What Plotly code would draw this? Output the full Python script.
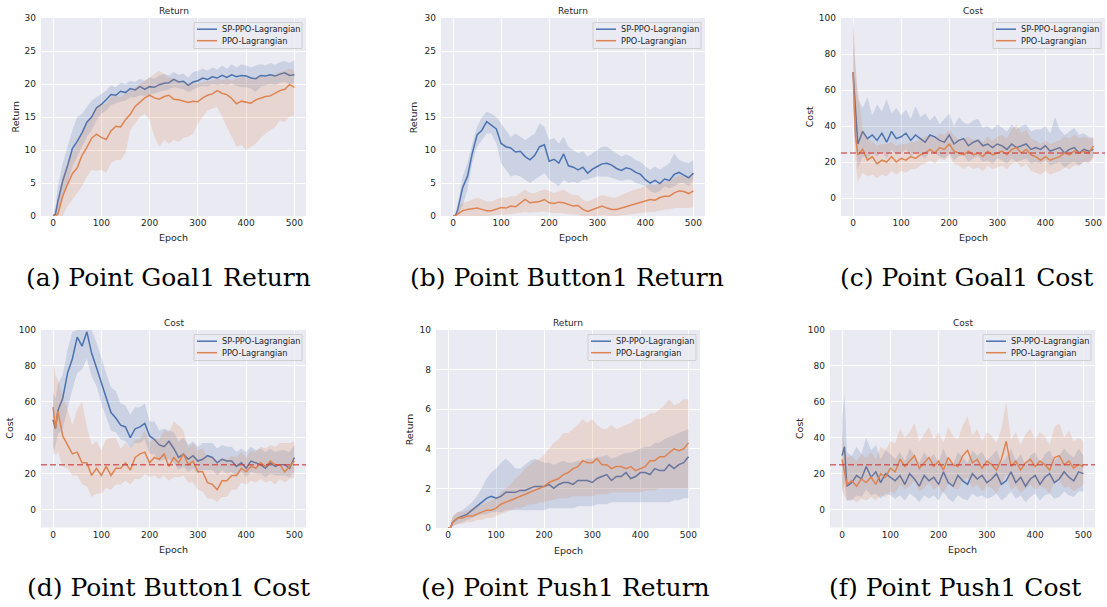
import plotly.graph_objects as go

# ---------------- data ----------------
EPOCHS = [0, 5] + list(range(10, 501, 10))
X_TICKS = [0, 100, 200, 300, 400, 500]
SERIES_NAMES = ["SP-PPO-Lagrangian", "PPO-Lagrangian"]
COST_LIMIT = 25

# (a) Point Goal1 Return
a_sp_mean = [0, 0.3, 2.2, 5.3, 7.6, 10.2, 11.3, 12.6, 14.2, 15.0,
             16.4, 16.9, 17.6, 18.4, 18.3, 18.9, 18.7, 19.3, 19.1, 19.6,
             19.2, 19.6, 19.5, 19.9, 20.1, 20.2, 20.7, 20.3, 20.4, 19.8,
             20.3, 20.5, 20.9, 20.7, 21.1, 20.9, 21.3, 21.0, 21.4, 21.1,
             21.3, 21.2, 20.9, 20.8, 21.3, 21.2, 21.4, 21.2, 21.5, 21.7,
             21.3, 21.4]
a_sp_lo = [0, 0, 0.5, 3, 5, 7.5, 9, 10.5, 12, 13,
           14.5, 15.5, 16, 16.8, 17, 17.3, 17.5, 18, 18, 18.3,
           18.2, 18.5, 18.6, 18.8, 19, 19.2, 19.5, 19.3, 19.2, 18.8,
           19.2, 19.5, 19.7, 19.6, 20, 19.8, 20, 19.8, 20.1, 19.7,
           19.5, 19.5, 19.3, 18.8, 19.6, 19.8, 20, 19.8, 20.2, 20.3,
           20, 20.2]
a_sp_hi = [0.2, 1.5, 4.5, 8, 10.5, 13, 15, 15.5, 16.5, 17.5,
           18, 18.5, 19, 19.8, 19.5, 20.2, 20, 20.5, 20.3, 20.8,
           20.5, 21, 20.8, 21.3, 21.5, 21.3, 21.8, 21.4, 21.6, 21,
           21.8, 22, 22.3, 22, 22.5, 22.2, 22.8, 22.3, 23, 22.5,
           23, 22.8, 22.5, 22.8, 23, 22.8, 23.2, 22.9, 23.3, 23.5,
           23.2, 23.6]
a_ppo_mean = [0, 0, 0.3, 3.0, 4.8, 6.4, 7.3, 9.2, 10.4, 11.8,
              12.4, 11.9, 11.6, 12.9, 13.6, 13.5, 14.6, 15.4, 16.6, 17.2,
              17.9, 18.3, 17.9, 17.7, 18.1, 18.3, 17.7, 17.6, 17.4, 17.2,
              17.4, 17.3, 17.9, 18.3, 18.5, 19.0, 18.6, 18.4, 17.8, 17.0,
              17.4, 17.2, 17.1, 17.6, 17.9, 18.1, 18.2, 18.6, 19.0, 19.2,
              19.9, 19.5]
a_ppo_lo = [0, 0, 0, 0, 1.5, 2.5, 3.5, 4.5, 6, 7,
            6.8, 7, 6.5, 8, 8.5, 8.5, 9.5, 13, 14, 15,
            15.5, 14.5, 12, 10.5, 11.5, 11, 11.5, 11.2, 11.8, 12,
            12.5, 14, 15, 16, 16.3, 16.5, 15, 13.5, 12, 10.5,
            10.8, 10, 10.5, 11, 11.8, 12.5, 13, 13.5, 14.5, 14.2,
            15, 15.2]
a_ppo_hi = [0.2, 0.5, 2.5, 6, 8, 9.5, 11, 12.5, 14, 15,
            16.5, 17, 17, 18, 18.3, 18, 18.5, 19, 19.5, 20,
            20.5, 21, 21.5, 22, 21.5, 21, 20.8, 20.5, 20.3, 20,
            20.2, 20, 20.3, 20.5, 20.5, 20.8, 20.6, 20.8, 20.5, 20.8,
            21, 21, 20.7, 21, 21.2, 21, 21.2, 21.5, 21.8, 22,
            22.3, 22]

# (b) Point Button1 Return
b_sp_mean = [0, 0, 1.0, 4.3, 6.0, 9.5, 12.3, 13.0, 14.3, 13.8,
             13.2, 11.0, 10.5, 10.3, 9.7, 9.8, 9.0, 8.5, 9.2, 10.5,
             10.8, 8.3, 8.6, 8.0, 9.4, 7.6, 7.4, 7.0, 7.4, 6.5,
             7.1, 7.5, 7.9, 8.0, 7.7, 7.2, 6.9, 7.3, 7.1, 6.6,
             6.3, 5.5, 5.0, 5.4, 4.9, 5.6, 5.4, 6.3, 6.6, 6.2,
             5.8, 6.5]
b_sp_lo = [0, 0, 0.2, 1.5, 4, 8, 10.5, 11.5, 12.5, 12.5,
           11, 8, 7, 6, 6.2, 6, 5.5, 5, 5.5, 6,
           6.5, 5.5, 5, 4.5, 5.5, 5, 5.2, 5, 5.5, 5.5,
           5.8, 6, 6, 6, 5.8, 5.5, 5.3, 5.5, 5.5, 5,
           4.8, 4.5, 3.8, 3.5, 3.8, 4.5, 4.2, 4.5, 5, 5,
           4.5, 5.5]
b_sp_hi = [0.2, 0.5, 2, 6, 8, 11, 13.5, 15, 15.8, 15.5,
           15, 14, 13, 12, 12.5, 12, 11.5, 12, 12.5, 14,
           13.5, 11.5, 11.8, 11, 12, 10.5, 10, 9.5, 9.8, 9,
           9.5, 10, 10.5, 10.5, 10, 9.5, 9, 9.3, 9, 8.5,
           8.2, 7.5, 7, 7.5, 7, 7.5, 8, 9.5, 8.5, 8.2,
           8, 8.5]
b_ppo_mean = [0, 0, 0.3, 0.8, 1.0, 1.1, 1.2, 1.0, 0.8, 0.8,
              1.0, 1.3, 1.2, 1.5, 1.4, 2.0, 2.5, 2.0, 2.1, 2.2,
              2.5, 2.0, 1.9, 2.1, 2.0, 1.8, 1.5, 1.6, 1.0, 0.7,
              1.0, 1.2, 1.5, 1.2, 1.0, 1.0, 1.2, 1.5, 1.7, 1.8,
              2.0, 2.2, 2.5, 2.4, 2.8, 3.0, 3.0, 3.5, 3.8, 3.7,
              3.4, 3.8]
b_ppo_lo = [0, 0, 0, 0, 0, 0, 0, 0, 0, 0,
            0.1, 0.2, 0.2, 0.3, 0.3, 0.5, 0.6, 0.5, 0.5, 0.6,
            0.7, 0.5, 0.5, 0.4, 0.4, 0.3, 0.2, 0.2, 0, 0,
            0, 0, 0.1, 0.1, 0, 0, 0.1, 0.2, 0.3, 0.4,
            0.5, 0.5, 0.6, 0.6, 0.8, 1.0, 1.0, 1.2, 1.3, 1.2,
            1.2, 1.3]
b_ppo_hi = [0.1, 0.2, 1.2, 2, 2.2, 2.5, 2.8, 2.5, 2.2, 2.2,
            2.5, 2.8, 2.7, 3, 3, 3.5, 4, 3.5, 3.5, 3.8,
            4, 3.8, 3.5, 3.8, 4, 3.5, 3.2, 3.2, 2.5, 2.2,
            2.5, 2.8, 3.2, 3, 2.8, 2.8, 3.2, 3.5, 3.8, 4,
            4.2, 4.5, 4.8, 4.6, 5, 5.2, 5.3, 5.8, 6.2, 6,
            5.8, 6.5]

# (c) Point Goal1 Cost
c_sp_mean = [70, 48, 30, 37, 33, 35, 32, 36, 31, 37,
             33, 34, 36, 32, 35, 33, 31, 35, 34, 32,
             31, 35, 30, 32, 33, 29, 31, 32, 29, 30,
             28, 30, 29, 27, 30, 28, 29, 30, 27, 28,
             27, 29, 26, 27, 28, 25, 27, 28, 25, 27,
             26, 27]
c_sp_lo = [50, 30, 16, 23, 22, 25, 23, 26, 22, 27,
           24, 25, 27, 23, 26, 24, 22, 26, 25, 23,
           22, 25, 21, 23, 24, 20, 22, 23, 20, 21,
           19, 22, 21, 19, 22, 20, 21, 22, 19, 20,
           19, 21, 18, 19, 20, 17, 19, 20, 18, 20,
           20, 23]
c_sp_hi = [100, 70, 55, 50, 56, 46, 52, 48, 55, 47,
           50, 46, 49, 44, 51, 45, 47, 43, 46, 41,
           44, 47, 40, 45, 42, 41, 43, 44, 39, 40,
           38, 41, 39, 37, 41, 38, 40, 41, 37, 38,
           38, 40, 36, 45, 38, 35, 37, 39, 35, 36,
           34, 33]
c_ppo_mean = [70, 35, 24, 27, 21, 23, 19, 21, 20, 23,
              20, 22, 21, 23, 22, 24, 25, 27, 25, 28,
              27, 30, 26, 25, 24, 26, 24, 25, 23, 26,
              24, 25, 26, 24, 27, 28, 25, 27, 24, 23,
              21, 23, 21, 22, 23, 25, 24, 26, 25, 26,
              25, 29]
c_ppo_lo = [50, 20, 9, 14, 12, 13, 11, 13, 12, 15,
            13, 15, 14, 16, 16, 18, 19, 21, 19, 22,
            21, 23, 19, 18, 16, 18, 16, 17, 15, 18,
            16, 17, 18, 16, 19, 20, 17, 19, 15, 14,
            13, 15, 13, 14, 15, 17, 16, 18, 18, 20,
            19, 22]
c_ppo_hi = [100, 75, 60, 38, 33, 31, 29, 30, 30, 31,
            29, 30, 30, 31, 31, 33, 34, 35, 33, 36,
            35, 38, 35, 32, 33, 34, 32, 33, 31, 34,
            32, 34, 35, 33, 38, 41, 36, 38, 33, 32,
            30, 32, 30, 31, 32, 34, 33, 35, 33, 34,
            33, 34]

# (d) Point Button1 Cost
d_sp_mean = [50, 45, 55, 62, 76, 84, 96, 91, 99, 87,
             79, 71, 63, 54, 51, 47, 46, 40, 45, 46,
             48, 41, 39, 36, 35, 38, 34, 29, 31, 28,
             30, 27, 28, 30, 29, 26, 28, 27, 27, 24,
             26, 23, 27, 26, 25, 23, 26, 24, 25, 25,
             23, 29]
d_sp_lo = [30, 35, 42, 45, 56, 67, 76, 78, 84, 74,
           69, 59, 51, 44, 43, 39, 38, 34, 37, 37,
           39, 31, 31, 27, 28, 28, 26, 22, 24, 21,
           23, 20, 22, 22, 22, 19, 22, 20, 21, 18,
           21, 18, 21, 20, 20, 18, 20, 19, 19, 19,
           18, 21]
d_sp_hi = [65, 62, 70, 75, 89, 99, 100, 100, 100, 100,
           93, 84, 76, 68, 66, 59, 58, 53, 57, 57,
           59, 49, 49, 44, 45, 44, 43, 38, 40, 36,
           38, 35, 37, 37, 37, 34, 36, 35, 35, 32,
           34, 32, 35, 33, 34, 32, 34, 32, 33, 33,
           32, 36]
d_ppo_mean = [57, 45, 55, 41, 36, 31, 32, 26, 26, 19,
              23, 19, 24, 19, 23, 23, 26, 22, 29, 31,
              32, 26, 29, 28, 31, 24, 29, 26, 31, 25,
              27, 21, 21, 15, 14, 11, 16, 16, 19, 19,
              23, 21, 24, 23, 26, 24, 27, 25, 25, 21,
              24, 27]
d_ppo_lo = [35, 30, 32, 24, 23, 19, 19, 14, 13, 7,
            9, 9, 12, 11, 14, 14, 16, 14, 17, 17,
            20, 18, 19, 17, 19, 16, 18, 18, 19, 15,
            15, 11, 10, 6, 6, 4, 7, 7, 11, 11,
            15, 14, 16, 15, 17, 15, 16, 14, 17, 15,
            17, 18]
d_ppo_hi = [83, 75, 72, 63, 56, 47, 56, 60, 46, 36,
            38, 33, 39, 40, 40, 34, 37, 34, 39, 39,
            44, 37, 40, 39, 44, 43, 49, 47, 44, 34,
            37, 33, 34, 29, 30, 27, 29, 28, 30, 29,
            32, 29, 33, 32, 35, 34, 36, 35, 37, 37,
            37, 38]

# (e) Point Push1 Return
e_sp_mean = [0, 0, 0.3, 0.5, 0.6, 0.7, 0.9, 1.1, 1.3, 1.5,
             1.6, 1.5, 1.6, 1.8, 1.8, 1.8, 1.9, 1.9, 2.0, 2.1,
             2.1, 2.1, 2.2, 2.0, 2.2, 2.3, 2.3, 2.2, 2.4, 2.4,
             2.4, 2.3, 2.5, 2.6, 2.7, 2.4, 2.6, 2.6, 2.8, 2.5,
             2.6, 2.8, 2.8, 2.7, 3.0, 2.9, 2.9, 3.2, 3.0, 3.2,
             3.3, 3.6]
e_sp_lo = [0, 0, 0.1, 0.2, 0.3, 0.4, 0.5, 0.6, 0.7, 0.7,
           0.8, 0.8, 0.8, 0.9, 0.9, 0.9, 0.9, 0.9, 0.9, 0.9,
           0.9, 0.9, 1.0, 1.0, 1.0, 1.0, 1.0, 1.0, 1.1, 1.1,
           1.1, 1.1, 1.2, 1.2, 1.2, 1.3, 1.3, 1.3, 1.3, 1.3,
           1.3, 1.3, 1.3, 1.3, 1.3, 1.3, 1.3, 1.3, 1.4, 1.4,
           1.5, 1.5]
e_sp_hi = [0, 0.1, 0.6, 0.8, 0.9, 1.1, 1.3, 1.6, 2.0, 2.5,
           2.8, 3.0, 3.3, 3.5, 3.3, 3.0, 3.0, 3.2, 3.4, 3.5,
           3.4, 3.3, 3.3, 3.2, 3.3, 3.4, 3.3, 3.3, 3.4, 3.4,
           3.5, 3.5, 3.6, 3.6, 3.7, 3.5, 3.6, 3.7, 3.8, 3.8,
           3.9, 4.0, 4.1, 4.1, 4.3, 4.3, 4.5, 4.6, 4.7, 4.8,
           4.9, 5.0]
e_ppo_mean = [0, 0, 0.3, 0.5, 0.5, 0.6, 0.6, 0.7, 0.8, 0.9,
              0.9, 1.0, 1.2, 1.3, 1.4, 1.5, 1.6, 1.7, 1.8, 1.9,
              2.0, 2.1, 2.3, 2.4, 2.5, 2.7, 2.8, 3.0, 3.1, 3.4,
              3.3, 3.3, 3.5, 3.2, 3.2, 3.0, 3.1, 3.1, 3.0, 3.1,
              2.9, 3.0, 3.1, 3.4, 3.4, 3.6, 3.6, 3.8, 4.0, 3.9,
              4.0, 4.3]
e_ppo_lo = [0, 0, 0.1, 0.2, 0.2, 0.3, 0.3, 0.4, 0.4, 0.5,
            0.5, 0.6, 0.7, 0.8, 0.9, 1.0, 1.0, 1.1, 1.2, 1.2,
            1.3, 1.3, 1.4, 1.4, 1.5, 1.5, 1.5, 1.6, 1.6, 1.6,
            1.6, 1.6, 1.7, 1.7, 1.7, 1.8, 1.8, 1.8, 1.8, 1.8,
            1.8, 1.8, 1.9, 1.9, 1.9, 2.0, 2.0, 2.0, 2.0, 2.0,
            2.0, 2.0]
e_ppo_hi = [0, 0.1, 0.6, 0.8, 0.8, 0.9, 1.0, 1.1, 1.2, 1.3,
            1.4, 1.5, 1.8, 2.0, 2.2, 2.5, 2.7, 3.0, 3.2, 3.4,
            3.5, 3.7, 4.0, 4.3, 4.5, 4.8, 4.8, 5.0, 5.2, 5.5,
            5.3, 5.5, 5.2, 5.0, 5.0, 5.2, 5.0, 5.1, 5.2, 5.3,
            5.5, 5.5, 5.6, 5.8, 5.8, 6.0, 6.2, 6.5, 6.2, 6.3,
            6.5, 6.5]

# (f) Point Push1 Cost
f_sp_mean = [30, 35, 13, 15, 19, 17, 24, 18, 21, 15,
             20, 18, 16, 19, 14, 20, 17, 13, 19, 16,
             18, 14, 21, 15, 13, 19, 16, 14, 20, 17,
             19, 15, 17, 20, 14, 16, 21, 15, 18, 13,
             17, 19, 14, 18, 20, 15, 17, 21, 18, 16,
             21, 20]
f_sp_lo = [10, 15, 5, 5, 8, 7, 11, 8, 9, 6,
           9, 8, 6, 8, 5, 9, 7, 4, 8, 6,
           8, 5, 10, 6, 4, 8, 6, 5, 9, 7,
           8, 6, 7, 9, 5, 7, 10, 6, 8, 4,
           7, 9, 5, 8, 9, 6, 7, 10, 8, 7,
           10, 10]
f_sp_hi = [50, 65, 32, 30, 35, 31, 40, 33, 36, 28,
           33, 31, 28, 32, 27, 34, 30, 26, 32, 28,
           31, 26, 34, 27, 25, 32, 29, 26, 33, 30,
           32, 27, 30, 33, 26, 29, 34, 27, 31, 25,
           30, 32, 26, 31, 33, 27, 30, 34, 31, 29,
           34, 30]
f_ppo_mean = [28, 20, 14, 16, 13, 17, 15, 18, 14, 20,
              18, 23, 21, 28, 24, 27, 30, 23, 26, 29,
              24, 27, 22, 29, 25, 24, 30, 33, 26, 28,
              23, 27, 25, 22, 28, 38, 24, 27, 22, 26,
              28, 24, 27, 25, 22, 29, 30, 25, 27, 23,
              25, 24]
f_ppo_lo = [10, 8, 5, 6, 4, 6, 5, 7, 5, 8,
            7, 10, 9, 14, 11, 13, 16, 10, 12, 15,
            11, 13, 9, 15, 12, 11, 16, 18, 12, 14,
            10, 13, 12, 9, 14, 20, 11, 13, 9, 12,
            14, 11, 13, 12, 9, 15, 16, 12, 13, 10,
            12, 14]
f_ppo_hi = [45, 35, 29, 30, 27, 31, 29, 32, 28, 35,
            33, 38, 37, 45, 40, 43, 48, 38, 42, 46,
            39, 43, 37, 46, 41, 39, 47, 52, 41, 45,
            38, 43, 41, 37, 45, 60, 39, 43, 36, 42,
            45, 39, 43, 41, 36, 46, 48, 40, 44, 38,
            40, 38]

TITLES = ["Return", "Return", "Cost", "Cost", "Return", "Cost"]
CAPTIONS = ["(a) Point Goal1 Return", "(b) Point Button1 Return", "(c) Point Goal1 Cost",
            "(d) Point Button1 Cost", "(e) Point Push1 Return", "(f) Point Push1 Cost"]
Y_TICKS = [[0, 5, 10, 15, 20, 25, 30], [0, 5, 10, 15, 20, 25, 30],
           [0, 20, 40, 60, 80, 100], [0, 20, 40, 60, 80, 100],
           [0, 2, 4, 6, 8, 10], [0, 20, 40, 60, 80, 100]]
Y_RANGES = [[0, 30], [0, 30], [-10, 100], [-10, 100], [0, 10], [-10, 100]]
SHOW_LIMIT = [False, False, True, True, False, True]

SERIES = [
    [(a_sp_mean, a_sp_lo, a_sp_hi), (a_ppo_mean, a_ppo_lo, a_ppo_hi)],
    [(b_sp_mean, b_sp_lo, b_sp_hi), (b_ppo_mean, b_ppo_lo, b_ppo_hi)],
    [(c_sp_mean, c_sp_lo, c_sp_hi), (c_ppo_mean, c_ppo_lo, c_ppo_hi)],
    [(d_sp_mean, d_sp_lo, d_sp_hi), (d_ppo_mean, d_ppo_lo, d_ppo_hi)],
    [(e_sp_mean, e_sp_lo, e_sp_hi), (e_ppo_mean, e_ppo_lo, e_ppo_hi)],
    [(f_sp_mean, f_sp_lo, f_sp_hi), (f_ppo_mean, f_ppo_lo, f_ppo_hi)],
]

# ---------------- layout / style ----------------
W, H = 1107, 607
COLORS = ["#4C72B0", "#DD8452"]
BANDS = ["rgba(76,114,176,0.2)", "rgba(221,132,82,0.2)"]
BG = "#EAEAF2"
TXT = "#262626"
SANS = "DejaVu Sans"
SERIF = "DejaVu Serif"

# plot-area rectangles in pixels: (left, top, right, bottom)
RECTS = [(41, 18, 306, 216), (441, 18, 705, 216), (841, 18, 1105, 216),
         (41, 330, 306, 527.5), (436, 330, 700, 528), (830, 330, 1095, 527.5)]
YTITLE_OFF = [26.5, 27.7, 31.7, 31, 26.7, 30.7]
CAPTION_X = [168, 567, 966.5, 168, 565, 954.5]
CAPTION_Y = [277, 277, 277, 587, 587, 587]


def px(x):
    return x / W


def py(y):
    return 1 - y / H


fig = go.Figure()
layout = dict(width=W, height=H, margin=dict(l=0, r=0, t=0, b=0),
              paper_bgcolor="white", plot_bgcolor=BG, showlegend=False)
annotations = []
shapes = []

for i in range(6):
    k = i + 1
    xa = "x" if k == 1 else f"x{k}"
    ya = "y" if k == 1 else f"y{k}"
    l, t, r, b = RECTS[i]
    for s in range(2):
        mean, lo, hi = SERIES[i][s]
        n = min(len(EPOCHS), len(mean), len(lo), len(hi))
        ex = EPOCHS[:n]
        fig.add_trace(go.Scatter(
            x=ex + ex[::-1], y=list(hi[:n]) + list(lo[:n])[::-1],
            fill="toself", fillcolor=BANDS[s], line=dict(width=0),
            mode="lines", hoverinfo="skip", showlegend=False,
            xaxis=xa, yaxis=ya))
        fig.add_trace(go.Scatter(
            x=ex, y=mean[:n], mode="lines", name=SERIES_NAMES[s],
            line=dict(color=COLORS[s], width=1.5), showlegend=False,
            xaxis=xa, yaxis=ya))

    axis_common = dict(showgrid=True, gridcolor="white", gridwidth=1.4,
                       zeroline=False, showline=False, ticks="",
                       tickfont=dict(family=SANS, size=9, color=TXT),
                       automargin=False)
    layout["xaxis" if k == 1 else f"xaxis{k}"] = dict(
        domain=[px(l), px(r)], anchor=ya, range=[-25, 524],
        tickvals=X_TICKS, **axis_common)
    layout["yaxis" if k == 1 else f"yaxis{k}"] = dict(
        domain=[py(b), py(t)], anchor=xa, range=Y_RANGES[i],
        tickvals=Y_TICKS[i], ticklabelstandoff=4, **axis_common)

    cx = (l + r) / 2
    annotations.append(dict(text=TITLES[i], x=px(cx), y=py(t - 7.5), xref="paper", yref="paper",
                            showarrow=False, xanchor="center", yanchor="middle",
                            font=dict(family=SANS, size=9, color=TXT)))
    annotations.append(dict(text="Epoch", x=px(cx), y=py(b + 22), xref="paper", yref="paper",
                            showarrow=False, xanchor="center", yanchor="middle",
                            font=dict(family=SANS, size=9.5, color=TXT)))
    annotations.append(dict(text=TITLES[i], x=px(l - YTITLE_OFF[i]), y=py((t + b) / 2),
                            xref="paper", yref="paper", textangle=-90,
                            showarrow=False, xanchor="center", yanchor="middle",
                            font=dict(family=SANS, size=9.5, color=TXT)))
    annotations.append(dict(text=CAPTIONS[i], x=px(CAPTION_X[i]), y=py(CAPTION_Y[i]),
                            xref="paper", yref="paper", showarrow=False,
                            xanchor="center", yanchor="middle",
                            font=dict(family=SERIF, size=25, color="black")))

    if SHOW_LIMIT[i]:
        shapes.append(dict(type="line", xref=f"{xa} domain", yref=ya,
                           x0=0, x1=1, y0=COST_LIMIT, y1=COST_LIMIT,
                           line=dict(color="rgba(205,60,60,0.75)", width=1.5, dash="6px,3px"),
                           layer="above"))

    lx1 = r - 4
    lx0 = lx1 - 108
    ly0 = t + 4.5
    ly1 = ly0 + 26
    shapes.append(dict(type="rect", xref="paper", yref="paper",
                       x0=px(lx0), x1=px(lx1), y0=py(ly1), y1=py(ly0),
                       fillcolor="rgba(234,234,242,0.8)",
                       line=dict(color="rgba(204,204,204,0.9)", width=1), layer="above"))
    for s in range(2):
        yy = ly0 + 6.7 + s * 11.5
        shapes.append(dict(type="line", xref="paper", yref="paper",
                           x0=px(lx0 + 3), x1=px(lx0 + 23), y0=py(yy), y1=py(yy),
                           line=dict(color=COLORS[s], width=1.5), layer="above"))
        annotations.append(dict(text=SERIES_NAMES[s], x=px(lx0 + 26), y=py(yy),
                                xref="paper", yref="paper", showarrow=False,
                                xanchor="left", yanchor="middle",
                                font=dict(family=SANS, size=8.2, color=TXT)))

layout["annotations"] = annotations
layout["shapes"] = shapes
fig.update_layout(**layout)
fig.write_html("out.html")
